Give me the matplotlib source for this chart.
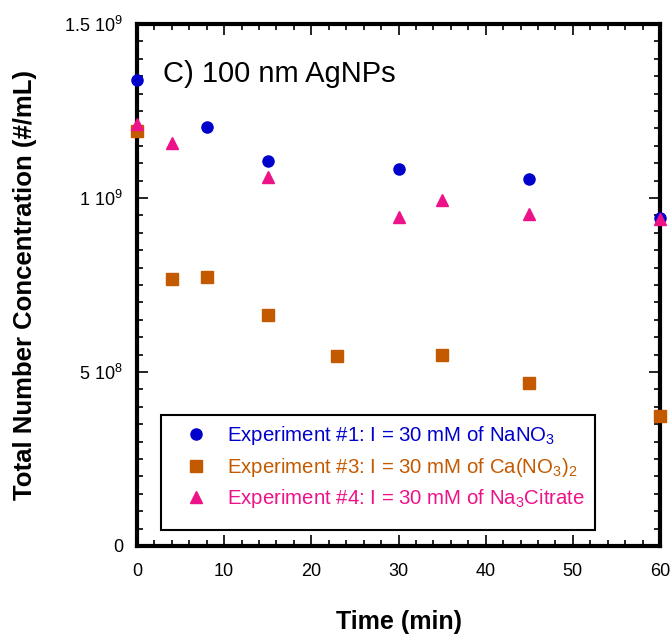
import matplotlib
matplotlib.use("Agg")
import matplotlib.pyplot as plt
from matplotlib.patches import Rectangle
from matplotlib.ticker import MultipleLocator, FixedLocator

plt.rcParams['font.family'] = ['Liberation Sans', 'DejaVu Sans']
plt.rcParams['mathtext.fontset'] = 'custom'
plt.rcParams['mathtext.rm'] = 'Liberation Sans'
plt.rcParams['mathtext.it'] = 'Liberation Sans:italic'
plt.rcParams['mathtext.bf'] = 'Liberation Sans:bold'

# experiment #1, NaNO3
t_exp1 = [0, 8, 15, 30, 45, 60]
n_exp1 = [1.339e9, 1.204e9, 1.106e9, 1.083e9, 1.055e9, 0.943e9]

# experiment #3, Ca(NO3)2
t_exp3 = [0, 4, 8, 15, 23, 35, 45, 60]
n_exp3 = [1.193e9, 0.767e9, 0.773e9, 0.664e9, 0.546e9, 0.549e9, 0.468e9, 0.374e9]

# experiment #4, Na3Citrate
t_exp4 = [0, 4, 15, 30, 35, 45, 60]
n_exp4 = [1.213e9, 1.158e9, 1.060e9, 0.945e9, 0.994e9, 0.954e9, 0.940e9]

labels = [r'Experiment #1: I = 30 mM of NaNO$_3$',
          r'Experiment #3: I = 30 mM of Ca(NO$_3$)$_2$',
          r'Experiment #4: I = 30 mM of Na$_3$Citrate']
colors = ['#0000CC', '#C45A00', '#EE1289']

yticks = [0, 5e8, 1e9, 1.5e9]
ytick_labels = ['0', r'5 10$^{8}$', r'1 10$^{9}$', r'1.5 10$^{9}$']

fig = plt.figure(figsize=(6.7, 6.34), dpi=100)
ax = fig.add_axes([137/670, 1 - 546/634, 523/670, 522/634])

ax.plot(t_exp1, n_exp1, 'o', color=colors[0], ms=8, label=labels[0], clip_on=False, zorder=5)
ax.plot(t_exp3, n_exp3, 's', color=colors[1], ms=9, label=labels[1], clip_on=False, zorder=5)
ax.plot(t_exp4, n_exp4, '^', color=colors[2], ms=8.5, label=labels[2], clip_on=False, zorder=5)

ax.set_xlim(0, 60)
ax.set_ylim(0, 1.5e9)
ax.xaxis.set_major_locator(MultipleLocator(10))
ax.xaxis.set_minor_locator(MultipleLocator(2))
ax.yaxis.set_major_locator(FixedLocator(yticks))
ax.yaxis.set_minor_locator(MultipleLocator(5e7))
ax.set_yticklabels(ytick_labels)

for s in ax.spines.values():
    s.set_linewidth(3)
ax.tick_params(which='both', direction='in', top=True, right=True, labelsize=13, colors='black')
ax.tick_params(axis='x', pad=12)
ax.tick_params(axis='y', pad=10)
ax.tick_params(which='major', length=8, width=1.2)
ax.tick_params(which='minor', length=4, width=1.2)

ax.set_xlabel('Time (min)', fontsize=18, fontweight='bold', labelpad=22)
ax.set_ylabel('Total Number Concentration (#/mL)', fontsize=18.5, fontweight='bold', labelpad=20)

ax.text(0.05, 0.905, 'C) 100 nm AgNPs', transform=ax.transAxes, fontsize=21, va='center')

# legend box drawn separately, entries sit near its top
ax.add_patch(Rectangle((0.046, 0.031), 0.83, 0.22, transform=ax.transAxes,
                       fill=False, edgecolor='black', lw=1.5, zorder=4))
leg = ax.legend(loc='upper left', bbox_to_anchor=(0.046, 0.251),
                borderaxespad=0, frameon=False, fontsize=14.7,
                labelcolor='markerfacecolor', handletextpad=0.3, labelspacing=0.42,
                borderpad=0.45, handlelength=2.5)

fig.savefig('out.png', dpi=100)
